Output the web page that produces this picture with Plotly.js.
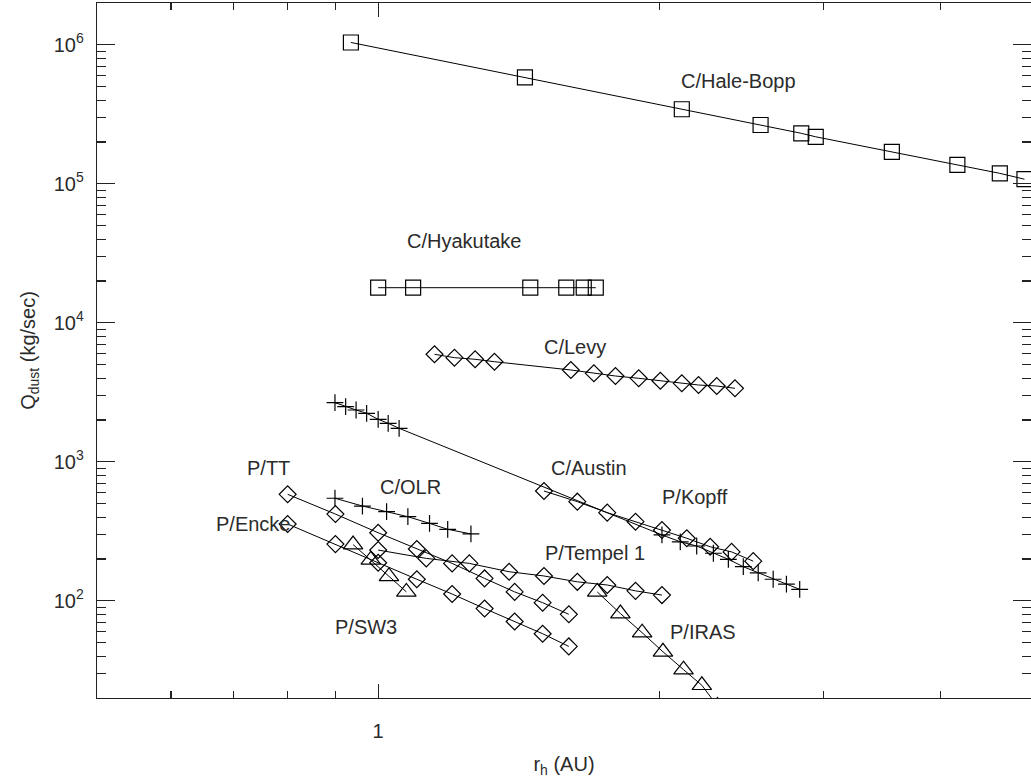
<!DOCTYPE html>
<html>
<head>
<meta charset="utf-8">
<script src="https://cdn.plot.ly/plotly-3.0.1.min.js"></script>
<style>
  html, body { margin: 0; padding: 0; overflow: hidden; background: #fff; }
  #chart { width: 1034px; height: 778px; }
</style>
</head>
<body>
<div id="chart"></div>
<script>
// ---- data (r_h in AU, Q_dust in kg/sec) ----
const hbR = [0.935, 1.436, 2.114, 2.567, 2.838, 2.941, 3.548, 4.17, 4.63, 4.92];
const hbQ = [1.04e6, 5.84e5, 3.44e5, 2.65e5, 2.31e5, 2.18e5, 1.70e5, 1.37e5, 1.19e5, 1.08e5];

const hyR = [1.0, 1.09, 1.455, 1.59, 1.66, 1.71];
const hyQ = [1.79e4, 1.79e4, 1.79e4, 1.79e4, 1.79e4, 1.79e4];

const levyR = [1.149, 1.207, 1.270, 1.332, 1.608, 1.702, 1.795, 1.901, 2.005, 2.114, 2.203, 2.304, 2.410];
const levyQ = [5940, 5615, 5468, 5253, 4580, 4335, 4145, 3990, 3834, 3673, 3571, 3512, 3381];

const austinR = [0.899, 0.923, 0.947, 0.972, 1.000, 1.025, 1.053, 2.013, 2.106, 2.193, 2.285, 2.371, 2.460, 2.552, 2.648, 2.736, 2.827];
const austinQ = [2665, 2493, 2360, 2235, 2023, 1894, 1743, 298, 266, 248, 220, 199, 176, 159, 143, 132, 121];

const kopffR = [1.505, 1.634, 1.759, 1.886, 2.013, 2.140, 2.267, 2.390, 2.521];
const kopffQ = [617, 517, 431, 371, 323, 282, 245, 225, 193];

const olrR = [0.899, 0.962, 1.021, 1.076, 1.135, 1.187, 1.257];
const olrQ = [547, 481, 438, 403, 361, 327, 303];

const ttR = [0.8, 0.9, 1.0, 1.1, 1.2, 1.3, 1.4, 1.5, 1.6];
const ttQ = [584, 421, 309, 236, 186, 145, 116, 97, 80];

const enckeR = [0.8, 0.9, 1.0, 1.1, 1.2, 1.3, 1.4, 1.5, 1.6];
const enckeQ = [357, 256, 188, 143, 112, 88, 71, 58, 47];

const tempelR = [1.0, 1.126, 1.252, 1.381, 1.505, 1.634, 1.759, 1.886, 2.013];
const tempelQ = [232, 202, 186, 162, 151, 137, 130, 118, 110];

const sw3R = [0.940, 0.982, 1.027, 1.072];
const sw3Q = [254, 197, 150, 116];

const irasR = [1.716, 1.817, 1.917, 2.018, 2.123, 2.221, 2.308];
const irasQ = [116, 81, 59, 43, 32, 24.7, 17.5];

// ---- labels ----
const labelText = ["C/Hale-Bopp", "C/Hyakutake", "C/Levy", "C/Austin", "P/Kopff", "P/TT", "C/OLR", "P/Encke", "P/Tempel 1", "P/SW3", "P/IRAS"];
const labelR = [2.43, 1.237, 1.624, 1.681, 2.186, 0.763, 1.083, 0.735, 1.706, 0.970, 2.225];
const labelQ = [5.49e5, 3.88e4, 6700, 903, 558, 903, 659, 357, 221, 64.8, 59.7];

// ---- axis ticks ----
const xMajor = [1];
const xMajorText = ["1"];
const xMinor = [0.6, 0.7, 0.8, 0.9, 2, 3, 4];
const yMajor = [1e2, 1e3, 1e4, 1e5, 1e6];
const yMajorText = ["10<sup>2</sup>", "10<sup>3</sup>", "10<sup>4</sup>", "10<sup>5</sup>", "10<sup>6</sup>"];
const yMinor = [];
[10, 100, 1000, 1e4, 1e5].forEach(d => { for (let k = 2; k <= 9; k++) { const v = k * d; if (v > 20) yMinor.push(v); } });

const FONT = "Liberation Sans, Arial, Helvetica, sans-serif";
const TXT = "#2b2b2b";

function series(x, y, symbol, size) {
  return {
    x: x, y: y, type: "scatter", mode: "lines+markers",
    line: { color: "#000", width: 1 },
    marker: { symbol: symbol, size: size, color: "#000", line: { color: "#000", width: 1.2 } },
    cliponaxis: true, showlegend: false, hoverinfo: "x+y"
  };
}

const traces = [
  series(hbR, hbQ, "square-open", 15),
  series(hyR, hyQ, "square-open", 15),
  series(levyR, levyQ, "diamond-open", 13),
  series(austinR, austinQ, "cross-thin-open", 12),
  series(kopffR, kopffQ, "diamond-open", 13),
  series(olrR, olrQ, "cross-thin-open", 12),
  series(ttR, ttQ, "diamond-open", 13),
  series(enckeR, enckeQ, "diamond-open", 13),
  series(tempelR, tempelQ, "diamond-open", 13),
  series(sw3R, sw3Q, "triangle-up-open", 17),
  series(irasR, irasQ, "triangle-up-open", 17)
];

const annotations = labelText.map((t, i) => ({
  x: Math.log10(labelR[i]), y: Math.log10(labelQ[i]), xref: "x", yref: "y",
  text: t, showarrow: false, xanchor: "center", yanchor: "middle",
  font: { family: FONT, size: 20, color: TXT }
}));

const layout = {
  width: 1034, height: 778,
  margin: { l: 97, r: 3, t: 3, b: 80, pad: 0 },
  paper_bgcolor: "#fff", plot_bgcolor: "#fff",
  font: { family: FONT, size: 20, color: TXT },
  showlegend: false,
  xaxis: {
    type: "log", range: [Math.log10(0.5), Math.log10(5)],
    showgrid: false, zeroline: false,
    showline: true, linecolor: "#222", linewidth: 1.3, mirror: "ticks",
    ticks: "inside", ticklen: 14, tickwidth: 1.2, tickcolor: "#222",
    tickmode: "array", tickvals: xMajor, ticktext: xMajorText,
    tickfont: { family: FONT, size: 20, color: TXT },
    ticklabelstandoff: 15,
    minor: { tickmode: "array", tickvals: xMinor, ticks: "inside", ticklen: 7, tickwidth: 1.2, tickcolor: "#222", showgrid: false },
    title: { text: "r<sub>h</sub> (AU)", font: { family: FONT, size: 20, color: TXT }, standoff: 17 }
  },
  yaxis: {
    type: "log", range: [Math.log10(20), Math.log10(2e6)],
    showgrid: false, zeroline: false,
    showline: true, linecolor: "#222", linewidth: 1.3, mirror: "ticks",
    ticks: "inside", ticklen: 18, tickwidth: 1.2, tickcolor: "#222",
    tickmode: "array", tickvals: yMajor, ticktext: yMajorText,
    tickfont: { family: FONT, size: 20, color: TXT },
    ticklabelstandoff: 8,
    minor: { tickmode: "array", tickvals: yMinor, ticks: "inside", ticklen: 9, tickwidth: 1.2, tickcolor: "#222", showgrid: false },
    title: { text: "Q<sub>dust</sub> (kg/sec)", font: { family: FONT, size: 20, color: TXT }, standoff: 12 }
  },
  annotations: annotations
};

Plotly.newPlot("chart", traces, layout, { staticPlot: true, displayModeBar: false });
</script>
</body>
</html>
